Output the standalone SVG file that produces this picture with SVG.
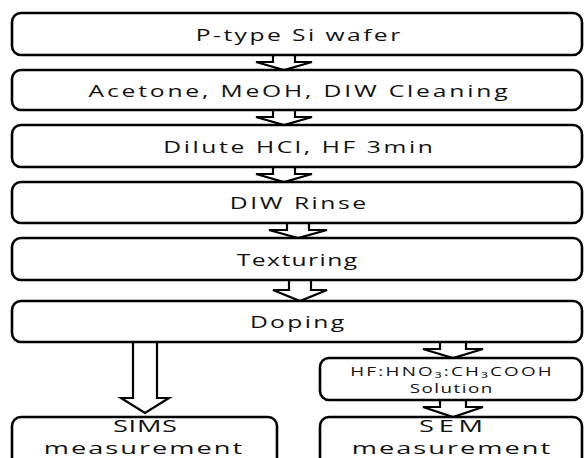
<svg xmlns="http://www.w3.org/2000/svg" width="584" height="458" viewBox="0 0 584 458">
<style>
.box{fill:#fff;stroke:#000;stroke-width:2.6}
.arr{fill:#fff;stroke:#000;stroke-width:2.2;stroke-linejoin:miter}
.t{font-family:"Open Sans","Noto Sans",sans-serif;font-size:17px;fill:#111;text-anchor:middle}
.s{font-family:"Open Sans","Noto Sans","DejaVu Sans",sans-serif;font-size:13px;fill:#111;text-anchor:middle}
</style>
<rect width="584" height="458" fill="#fff"/>
<g id="connectors">
<path class="arr" d="M273,55 L295,55 L295,62 L312,62 L284,70 L256,62 L273,62 Z"/>
<path class="arr" d="M273,110 L295,110 L295,117 L312,117 L284,125 L256,117 L273,117 Z"/>
<path class="arr" d="M273,167 L295,167 L295,174 L312,174 L284,182 L256,174 L273,174 Z"/>
<path class="arr" d="M287,223 L309,223 L309,230 L327,230 L298,238 L269,230 L287,230 Z"/>
<path class="arr" d="M289,280 L311,280 L311,290 L327,290 L300,301 L273,290 L289,290 Z"/>
<path class="arr" d="M133,342 L157,342 L157,398 L169,398 L145,413 L121,398 L133,398 Z"/>
<path class="arr" d="M440,342 L466,342 L466,349 L483,349 L453,358 L423,349 L440,349 Z"/>
<path class="arr" d="M440,400 L466,400 L466,407 L483,407 L453,417 L423,407 L440,407 Z"/>
</g>
<g id="n1"><rect class="box" x="12" y="13" width="570" height="42" rx="9"/><text class="t" transform="translate(298,41) scale(1.45,1)" textLength="141" lengthAdjust="spacing">P-type Si wafer</text></g>
<g id="n2"><rect class="box" x="12" y="70" width="570" height="40" rx="9"/><text class="t" transform="translate(298,97) scale(1.45,1)" textLength="289" lengthAdjust="spacing">Acetone, MeOH, DIW Cleaning</text></g>
<g id="n3"><rect class="box" x="12" y="125" width="570" height="42" rx="9"/><text class="t" transform="translate(298,153) scale(1.45,1)" textLength="186" lengthAdjust="spacing">Dilute HCl, HF 3min</text></g>
<g id="n4"><rect class="box" x="12" y="182" width="570" height="41" rx="9"/><text class="t" transform="translate(298,209) scale(1.45,1)" textLength="94" lengthAdjust="spacing">DIW Rinse</text></g>
<g id="n5"><rect class="box" x="12" y="238" width="570" height="42" rx="9"/><text class="t" transform="translate(297,266) scale(1.45,1)" textLength="83" lengthAdjust="spacing">Texturing</text></g>
<g id="n6"><rect class="box" x="12" y="301" width="570" height="41" rx="9"/><text class="t" transform="translate(297,328) scale(1.45,1)" textLength="65" lengthAdjust="spacing">Doping</text></g>
<g id="n7"><rect class="box" x="320" y="358" width="262" height="42" rx="9"/><text class="s" transform="translate(451,376) scale(1.45,1)" textLength="139" lengthAdjust="spacing">HF:HNO₃:CH₃COOH</text><text class="s" transform="translate(451,393) scale(1.45,1)" textLength="57" lengthAdjust="spacing">Solution</text></g>
<g id="n8"><rect class="box" x="12" y="417" width="265" height="56" rx="9"/><text class="t" transform="translate(145,432) scale(1.6,1)" textLength="40" lengthAdjust="spacing">SIMS</text><text class="t" transform="translate(143,454) scale(1.6,1)" textLength="124" lengthAdjust="spacing">measurement</text></g>
<g id="n9"><rect class="box" x="320" y="417" width="262" height="56" rx="9"/><text class="t" transform="translate(451,432) scale(1.6,1)" textLength="40" lengthAdjust="spacing">SEM</text><text class="t" transform="translate(451,454) scale(1.6,1)" textLength="124" lengthAdjust="spacing">measurement</text></g>
</svg>
